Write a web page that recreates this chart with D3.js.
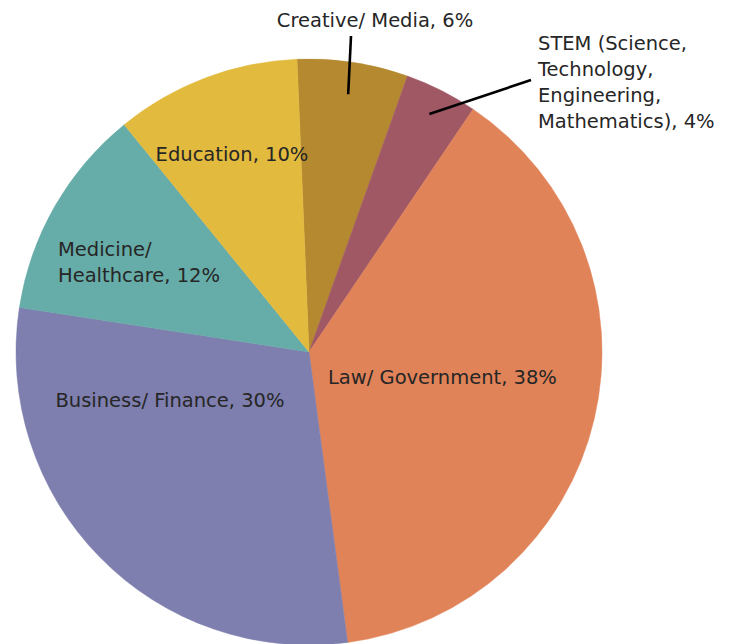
<!DOCTYPE html>
<html>
<head>
<meta charset="utf-8">
<script src="https://cdn.jsdelivr.net/npm/d3@7"></script>
<style>
  body { margin: 0; background: #fff; }
  text { font-family: "DejaVu Sans", sans-serif; fill: #262626; }
</style>
</head>
<body>
<div id="chart"></div>
<script>
// Data (clockwise, starting just left of 12 o'clock)
var categories = ["Creative/ Media", "STEM (Science, Technology, Engineering, Mathematics)",
    "Law/ Government", "Business/ Finance", "Medicine/ Healthcare", "Education"];
var values = [6.1, 4.0, 38.4, 29.5, 11.7, 10.2];
var colors = ["#b5892f", "#a05865", "#e08358", "#7e7fae", "#66aca8", "#e2ba3e"];
// label text lines as printed on the chart
var labelLines = [
    ["Creative/ Media, 6%"],
    ["STEM (Science,", "Technology,", "Engineering,", "Mathematics), 4%"],
    ["Law/ Government, 38%"],
    ["Business/ Finance, 30%"],
    ["Medicine/", "Healthcare, 12%"],
    ["Education, 10%"]
];

var svgWidth = 732;
var svgHeight = 644;
var cx = 309, cy = 352, radius = 293;
var startAngle = -2.35 * Math.PI / 180;

var svg = d3.select("#chart")
    .append("svg")
    .attr("width", svgWidth)
    .attr("height", svgHeight);

var pieGroup = svg.append("g")
    .attr("transform", `translate(${cx}, ${cy})`);

var pie = d3.pie()
    .sort(null)
    .startAngle(startAngle)
    .endAngle(startAngle + 2 * Math.PI)
    .value(d => d);

var arc = d3.arc().innerRadius(0).outerRadius(radius);

var slices = pie(values);

pieGroup.selectAll("path")
    .data(slices)
    .enter()
    .append("path")
    .attr("d", arc)
    .attr("fill", (d, i) => colors[i])
    .attr("stroke", (d, i) => colors[i])
    .attr("stroke-width", 0.5);

// Label placement (absolute page coords), separate from the data
var labelLayout = [
    { x: 375, y: 27, anchor: "middle", leader: [351, 36], inner: 0.89 },
    { x: 538, y: 50, anchor: "start", leader: [531, 80], inner: 0.91 },
    { x: 328, y: 384, anchor: "start" },
    { x: 170, y: 407, anchor: "middle" },
    { x: 58, y: 256, anchor: "start" },
    { x: 232, y: 161, anchor: "middle" }
];
var lineHeight = 26;

// Leader lines
slices.forEach(function(d, i) {
    var lay = labelLayout[i];
    if (!lay.leader) return;
    var r = radius * lay.inner;
    var c = d3.arc().innerRadius(r).outerRadius(r).centroid(d);
    svg.append("line")
        .attr("x1", lay.leader[0])
        .attr("y1", lay.leader[1])
        .attr("x2", cx + c[0])
        .attr("y2", cy + c[1])
        .attr("stroke", "#000")
        .attr("stroke-width", 2.6);
});

// Labels
labelLines.forEach(function(lines, i) {
    var lay = labelLayout[i];
    var t = svg.append("text")
        .attr("x", lay.x)
        .attr("y", lay.y)
        .attr("text-anchor", lay.anchor)
        .attr("font-size", 19.5);
    lines.forEach(function(line, j) {
        t.append("tspan")
            .attr("x", lay.x)
            .attr("y", lay.y + j * lineHeight)
            .text(line);
    });
});
</script>
</body>
</html>
